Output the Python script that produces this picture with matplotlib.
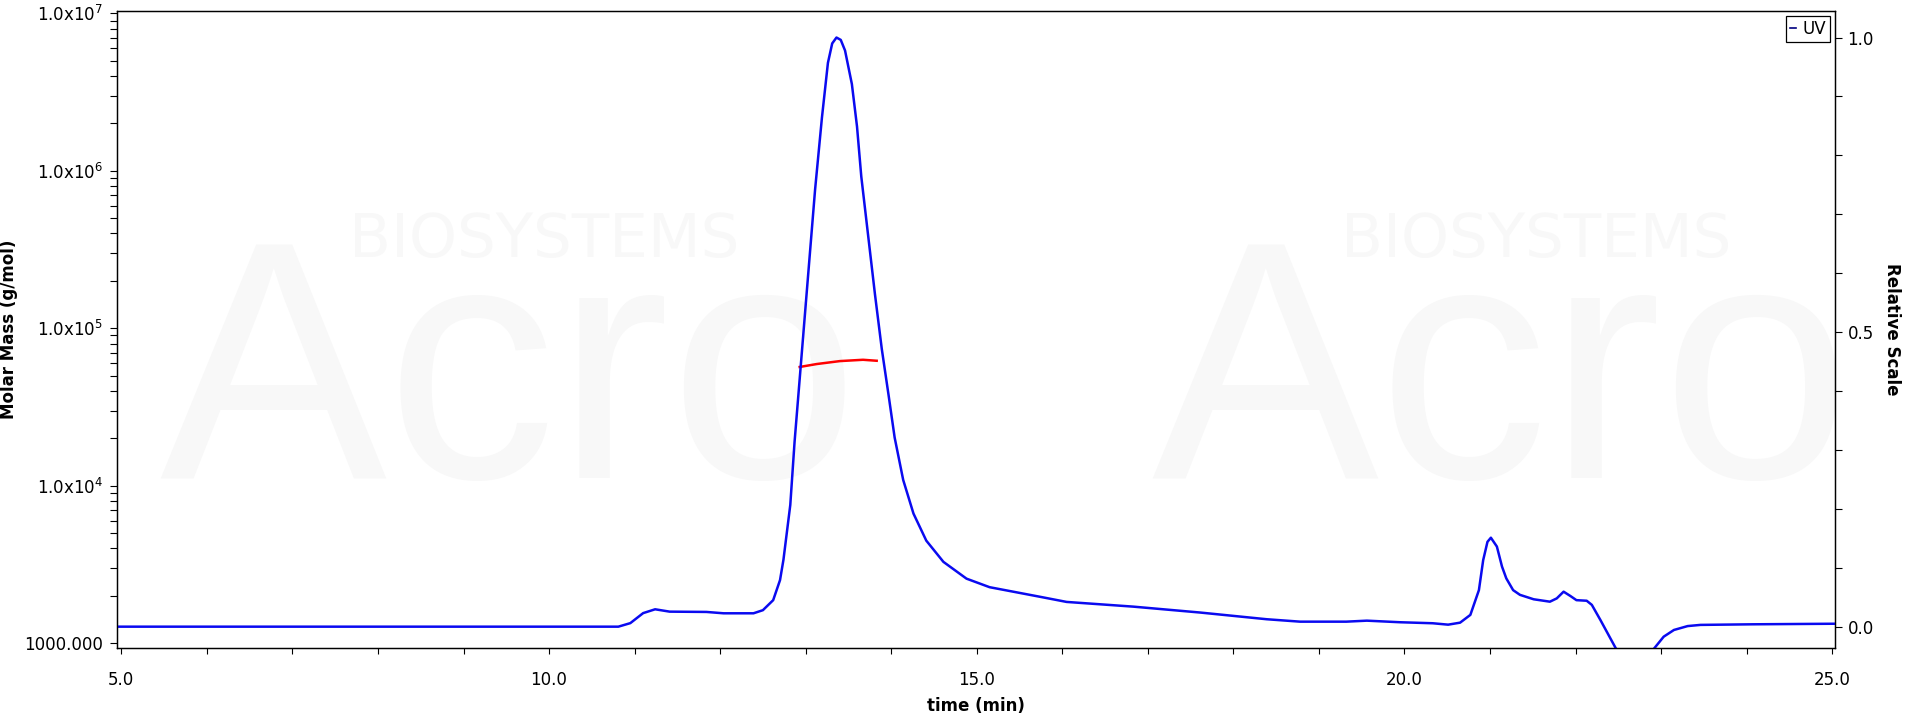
import matplotlib
matplotlib.use('Agg')
import matplotlib.pyplot as plt
from matplotlib.ticker import FixedLocator, MultipleLocator, LogLocator, NullFormatter
from matplotlib.lines import Line2D

# ---------------- data ----------------
uv_time = [4.95, 10.81, 10.95, 11.10, 11.24, 11.41, 11.84, 12.04, 12.39, 12.50, 12.62, 12.70,
           12.74, 12.82, 12.87, 12.93, 12.99, 13.05, 13.11, 13.19, 13.26, 13.31, 13.36, 13.41,
           13.46, 13.54, 13.60, 13.65, 13.73, 13.81, 13.89, 13.97, 14.04, 14.14, 14.26, 14.41,
           14.61, 14.88, 15.15, 15.74, 16.05, 16.83, 17.61, 18.39, 18.78, 19.32, 19.56, 19.95,
           20.33, 20.51, 20.65, 20.77, 20.87, 20.92, 20.97, 21.01, 21.08, 21.14, 21.19, 21.27,
           21.35, 21.51, 21.70, 21.78, 21.86, 21.94, 22.01, 22.13, 22.19, 22.29, 22.47, 22.70,
           22.92, 23.03, 23.15, 23.31, 23.46, 24.06, 25.05]
uv_signal = [0.0, 0.0, 0.006, 0.023, 0.0295, 0.0255, 0.025, 0.0227, 0.0227, 0.028, 0.045, 0.079,
             0.1135, 0.2066, 0.3135, 0.4207, 0.528, 0.635, 0.742, 0.864, 0.957, 0.99, 1.0, 0.996,
             0.978, 0.921, 0.849, 0.764, 0.664, 0.564, 0.471, 0.392, 0.321, 0.249, 0.192, 0.146,
             0.110, 0.0815, 0.067, 0.0507, 0.042, 0.034, 0.024, 0.0126, 0.0085, 0.0085, 0.0102, 0.0075,
             0.0058, 0.0034, 0.0068, 0.020, 0.062, 0.113, 0.144, 0.151, 0.136, 0.102, 0.082, 0.062,
             0.054, 0.0465, 0.0424, 0.048, 0.0594, 0.052, 0.045, 0.044, 0.037, 0.0114, -0.0367, -0.085,
             -0.0367, -0.017, -0.0056, 0.001, 0.003, 0.004, 0.005]

mm_time = [12.93, 13.13, 13.40, 13.67, 13.83]
mm_value = [56800, 59300, 61900, 63100, 62200]

x_major = [5.0, 10.0, 15.0, 20.0, 25.0]
x_labels = ['5.0', '10.0', '15.0', '20.0', '25.0']
left_ticks = [1e3, 1e4, 1e5, 1e6, 1e7]
left_labels = ['1000.000', r'1.0x10$^{4}$', r'1.0x10$^{5}$', r'1.0x10$^{6}$', r'1.0x10$^{7}$']
right_ticks = [0.0, 0.5, 1.0]
right_labels = ['0.0', '0.5', '1.0']

plt.rcParams['font.family'] = ['DejaVu Sans']
plt.rcParams['mathtext.fontset'] = 'dejavusans'

fig = plt.figure(figsize=(19.2, 7.2), dpi=100)
ax = fig.add_axes([0.0611, 0.0996, 0.8946, 0.8855])
ax.set_facecolor('none')
ax2 = ax.twinx()

# faint watermark, clipped to the plot area
wm_color = '#f8f8f8'
for dx in (0.0, 0.5165):
    ax.text(0.083 + dx, 0.336, 'Acro', fontsize=245, color=wm_color, zorder=0.1,
            family='Liberation Sans', ha='left', va='baseline',
            transform=fig.transFigure, clip_on=True)
    ax.text(0.182 + dx, 0.643, 'BIOSYSTEMS', fontsize=44, color=wm_color, zorder=0.1,
            ha='left', va='baseline', transform=fig.transFigure, clip_on=True)

# molar mass (left, log)
ax.plot(mm_time, mm_value, color='#ff0000', lw=1.8, zorder=3)
ax.set_yscale('log')
ax.set_ylim(10 ** 2.968, 10 ** 7.0165)
ax.set_xlim(4.953, 25.032)

ax.yaxis.set_major_locator(FixedLocator(left_ticks))
ax.set_yticklabels(left_labels)
ax.yaxis.set_minor_locator(LogLocator(base=10, subs=[2, 3, 4, 5, 6, 7, 8, 9], numticks=20))
ax.yaxis.set_minor_formatter(NullFormatter())

ax.xaxis.set_major_locator(FixedLocator(x_major))
ax.set_xticklabels(x_labels)
ax.xaxis.set_minor_locator(MultipleLocator(1.0))

ax.tick_params(axis='y', which='both', direction='out', length=5, width=0.8, labelsize=12, pad=5)
ax.tick_params(axis='x', which='both', direction='out', length=4, width=0.8, labelsize=12, pad=12)

ax.set_xlabel('time (min)', fontsize=12, fontweight='bold', labelpad=6)
ax.set_ylabel('Molar Mass (g/mol)', fontsize=12, fontweight='bold')
ax.yaxis.set_label_coords(-0.0578, 0.5)

# UV (right, linear)
ax2.plot(uv_time, uv_signal, color='#0a0af0', lw=1.8, zorder=2)
ax2.set_ylim(-0.0367, 1.0455)
ax2.yaxis.set_major_locator(FixedLocator(right_ticks))
ax2.set_yticklabels(right_labels)
ax2.yaxis.set_minor_locator(MultipleLocator(0.1))
ax2.tick_params(axis='y', which='both', direction='out', length=5, width=0.8, labelsize=12, pad=4)
ax2.set_ylabel('Relative Scale', fontsize=12, fontweight='bold', rotation=-90, va='center')
ax2.yaxis.set_label_coords(1.0332, 0.5)

for a in (ax, ax2):
    for s in a.spines.values():
        s.set_linewidth(0.9)
        s.set_color('black')

handle = Line2D([], [], color='#000080', lw=1.2)
leg = ax2.legend([handle], ['UV'], loc='upper right', handlelength=0.35, handletextpad=0.35,
                 borderpad=0.25, borderaxespad=0.3, fancybox=False, framealpha=1,
                 edgecolor='black', fontsize=12)
leg.get_frame().set_linewidth(0.9)

fig.savefig('out.png', dpi=100)
